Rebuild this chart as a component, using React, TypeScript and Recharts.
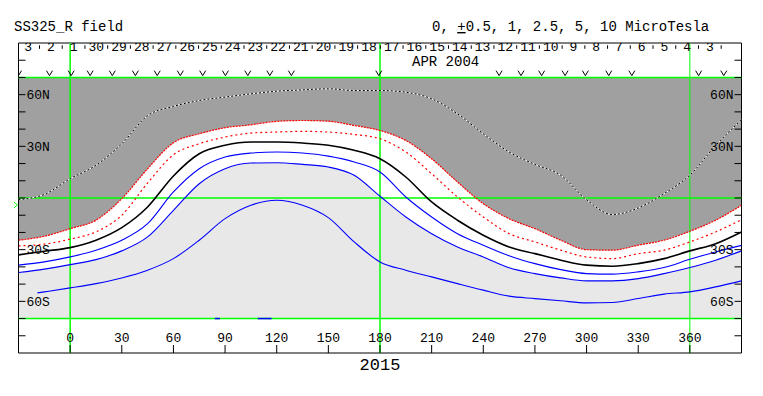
import React from "react";
import {
  ComposedChart,
  Area,
  Line,
  Scatter,
  XAxis,
  YAxis,
  ReferenceLine,
  ReferenceArea,
  ReferenceDot,
} from "recharts";

const MONO = "'Liberation Mono', 'DejaVu Sans Mono', monospace";

// longitude grid (Carrington deg) the contours were read at
const lons = [-30, -15, 0, 15, 30, 45, 60, 75, 90, 105, 120, 135, 150, 165, 180, 195, 210, 225, 240, 255, 270, 285, 300, 315, 330, 345, 360, 375, 390];

// latitude of each contour at those longitudes
const neutralLine = [-1.0, 2.1, 11.2, 19.0, 31.5, 47.8, 53.2, 56.6, 58.6, 60.5, 62.0, 62.8, 63.4, 62.4, 62.4, 61.4, 57.6, 48.9, 37.3, 26.7, 19.5, 13.2, -1.0, -9.6, -5.8, 2.5, 13.3, 30.5, 45.4];
const redOuter = [-24.5, -22.2, -17.8, -12.9, -0.4, 17.0, 32.1, 37.3, 40.8, 42.5, 44.5, 45.0, 44.6, 42.1, 39.2, 33.4, 22.8, 9.3, -3.3, -12.0, -17.8, -24.5, -30.0, -30.3, -27.4, -24.5, -19.3, -12.9, -4.2];
const redInner = [-27.8, -26.8, -23.9, -19.7, -10.0, 8.7, 25.1, 31.5, 35.4, 37.7, 38.3, 38.7, 38.3, 36.9, 34.4, 26.7, 14.1, 0.6, -11.0, -20.7, -25.5, -30.3, -34.2, -35.2, -32.3, -30.3, -25.5, -19.7, -12.6];
const blackLine = [-33.0, -30.9, -28.8, -24.5, -17.2, -5.2, 12.8, 25.7, 30.6, 32.5, 32.5, 31.9, 30.6, 27.7, 22.8, 12.2, -2.3, -12.9, -21.6, -28.4, -32.3, -36.1, -39.0, -39.6, -38.1, -35.2, -30.7, -26.5, -19.7];
const blue1 = [-39.0, -37.1, -34.2, -30.3, -24.5, -14.9, 3.5, 17.0, 23.8, 26.1, 26.7, 26.1, 24.3, 20.9, 15.1, 0.6, -11.0, -20.7, -27.4, -33.5, -38.1, -41.6, -43.9, -44.2, -42.9, -40.4, -35.6, -31.3, -27.5];
const blue2 = [-43.3, -41.3, -38.7, -35.8, -30.7, -22.6, -7.2, 8.3, 17.0, 20.3, 20.5, 19.5, 18.0, 13.2, 1.0, -11.0, -20.7, -28.4, -34.2, -40.5, -43.9, -46.4, -48.1, -48.1, -46.8, -43.9, -40.4, -36.1, -30.7];

// lowest contour starts a little inside the left edge
const blue3Lons = [-19, -15, 0, 15, 30, 45, 60, 75, 90, 105, 120, 135, 150, 165, 180, 195, 210, 225, 240, 255, 270, 285, 300, 315, 330, 345, 360, 375, 390];
const blue3 = [-55.1, -54.5, -52.2, -49.7, -46.4, -41.9, -35.2, -24.5, -12.0, -4.2, -1.3, -4.2, -11.4, -25.5, -37.1, -41.9, -45.8, -49.7, -53.5, -57.0, -58.4, -59.7, -60.9, -60.7, -58.4, -55.8, -54.5, -51.6, -48.1];

// bits of contour lying on the bottom edge
const edgeSegments = [[84, 87], [109, 117]];

// observation marks along the top
const obsLons = [-30, -12, 0.6, 11.6, 24.5, 37.9, 50.6, 64, 77, 90.2, 103.2, 116, 128.5, 179.3, 249.2, 261.9, 273.9, 287.5, 299.3, 312.9, 326.3, 365.1, 379.7];
const OBS_LAT = 72.5;
const B0_LAT = -4;

// day strip (May 3 back to Apr 3)
const dayLabels = ["3", "2", "1", "30", "29", "28", "27", "26", "25", "24", "23", "22", "21", "20", "19", "18", "17", "16", "15", "14", "13", "12", "11", "10", "9", "8", "7", "6", "5", "4", "3"];
const FIRST_DAY_LON = -24.4;
const DEG_PER_DAY = 13.2;
const DAY_LAT = 87.5;

const lonTicks = [0, 30, 60, 90, 120, 150, 180, 210, 240, 270, 300, 330, 360];
const latTicks = [-80, -70, -60, -50, -40, -30, -20, -10, 0, 10, 20, 30, 40, 50, 60, 70, 80];
const latLabels: Record<number, string> = { 60: "60N", 30: "30N", [-30]: "30S", [-60]: "60S" };

const rows = lons.map((lon, i) => ({
  lon,
  neutral: neutralLine[i],
  redOuter: redOuter[i],
  redInner: redInner[i],
  black: blackLine[i],
  blue1: blue1[i],
  blue2: blue2[i],
  dark: [redOuter[i], 70],
  white: [blue2[i], redOuter[i]],
  light: [-70, blue2[i]],
}));
const blue3Rows = blue3Lons.map((lon, i) => ({ lon, blue3: blue3[i] }));
const obsRows = obsLons.map((lon) => ({ lon, lat: OBS_LAT }));
const dayRows = dayLabels.map((label, i) => ({ lon: FIRST_DAY_LON + i * DEG_PER_DAY, lat: DAY_LAT, label }));
const sepRows = dayLabels.map((_, i) => ({ lon: FIRST_DAY_LON + DEG_PER_DAY / 2 + i * DEG_PER_DAY, lat: DAY_LAT }));

const GREEN = "#00ff00";

const LeftTick = (p: any) => {
  const t = latLabels[p.payload.value];
  if (!t) return <g />;
  return (
    <text x={p.x} y={p.y} dy="0.33em" textAnchor="start" fontFamily={MONO} fontSize={13} fill="#000">
      {t}
    </text>
  );
};

const RightTick = (p: any) => {
  const t = latLabels[p.payload.value];
  if (!t) return <g />;
  return (
    <text x={p.x} y={p.y} dy="0.33em" textAnchor="end" fontFamily={MONO} fontSize={13} fill="#000">
      {t}
    </text>
  );
};

const LonTick = (p: any) => (
  <text x={p.x} y={p.y - 1} textAnchor="middle" fontFamily={MONO} fontSize={13} fill="#000">
    {p.payload.value}
  </text>
);

const DayLabel = (p: any) => (
  <text x={p.cx} y={p.cy + 4} textAnchor="middle" fontFamily={MONO} fontSize={13} fill="#000">
    {p.payload.label}
  </text>
);

const DaySep = (p: any) => (
  <line x1={p.cx} x2={p.cx} y1={p.cy - 2} y2={p.cy + 1.5} stroke="#000" strokeWidth={1} />
);

const VMark = (p: any) => (
  <path
    d={`M${p.cx - 3},${p.cy - 2.5} L${p.cx},${p.cy + 2.5} L${p.cx + 3},${p.cy - 2.5}`}
    stroke="#000"
    strokeWidth={1}
    fill="none"
  />
);

const B0Mark = (p: any) => (
  <path
    d={`M${p.cx - 1.5},${p.cy - 3} L${p.cx + 2},${p.cy} L${p.cx - 1.5},${p.cy + 3}`}
    stroke={GREEN}
    strokeWidth={1}
    fill="none"
  />
);

export default function App() {
  return (
    <div style={{ position: "absolute", left: 0, top: 0, width: 763, height: 396, background: "#fff" }}>
      <ComposedChart
        width={763}
        height={396}
        data={rows}
        margin={{ top: 43, right: 21.5, bottom: 43, left: 18.5 }}
      >
        <XAxis
          dataKey="lon"
          type="number"
          domain={[-30, 390]}
          allowDataOverflow
          ticks={lonTicks}
          interval={0}
          orientation="bottom"
          mirror
          axisLine={false}
          tickSize={8}
          tickMargin={2}
          tickLine={{ stroke: "#000" }}
          tick={LonTick}
        />
        <YAxis
          type="number"
          domain={[-90, 90]}
          allowDataOverflow
          ticks={latTicks}
          interval={0}
          orientation="left"
          mirror
          axisLine={false}
          tickSize={7}
          tickMargin={1}
          tickLine={{ stroke: "#000" }}
          tick={LeftTick}
        />
        <YAxis
          yAxisId="r"
          type="number"
          domain={[-90, 90]}
          allowDataOverflow
          ticks={latTicks}
          interval={0}
          orientation="right"
          mirror
          axisLine={false}
          tickSize={7}
          tickMargin={1}
          tickLine={{ stroke: "#000" }}
          tick={RightTick}
        />

        <Area dataKey="light" type="monotone" stroke="none" fill="#e8e8e8" fillOpacity={1} isAnimationActive={false} activeDot={false} />
        <Area dataKey="white" type="monotone" stroke="none" fill="#ffffff" fillOpacity={1} isAnimationActive={false} activeDot={false} />
        <Area dataKey="dark" type="monotone" stroke="none" fill="#a0a0a0" fillOpacity={1} isAnimationActive={false} activeDot={false} />

        <ReferenceLine y={70} stroke={GREEN} strokeWidth={1.5} />
        <ReferenceLine y={-70} stroke={GREEN} strokeWidth={1.5} />
        <ReferenceLine y={0} stroke={GREEN} strokeWidth={1.5} />
        <ReferenceLine x={0} stroke={GREEN} strokeWidth={1.5} />
        <ReferenceLine x={180} stroke={GREEN} strokeWidth={1.5} />
        <ReferenceLine x={360} stroke={GREEN} strokeWidth={1} />

        <Line dataKey="neutral" type="monotone" stroke="#ffffff" strokeWidth={1} dot={false} activeDot={false} isAnimationActive={false} />
        <Line dataKey="neutral" type="monotone" stroke="#000000" strokeWidth={1} strokeDasharray="2 2" dot={false} activeDot={false} isAnimationActive={false} />
        <Line dataKey="redOuter" type="monotone" stroke="#ff0000" strokeWidth={1.2} strokeDasharray="2 1" dot={false} activeDot={false} isAnimationActive={false} />
        <Line dataKey="redInner" type="monotone" stroke="#ff0000" strokeWidth={1.2} strokeDasharray="2 3" dot={false} activeDot={false} isAnimationActive={false} />
        <Line dataKey="black" type="monotone" stroke="#000000" strokeWidth={1.6} dot={false} activeDot={false} isAnimationActive={false} />
        <Line dataKey="blue1" type="monotone" stroke="#0000ff" strokeWidth={1.1} dot={false} activeDot={false} isAnimationActive={false} />
        <Line dataKey="blue2" type="monotone" stroke="#0000ff" strokeWidth={1.1} dot={false} activeDot={false} isAnimationActive={false} />
        <Line data={blue3Rows} dataKey="blue3" type="monotone" stroke="#0000ff" strokeWidth={1.1} dot={false} activeDot={false} isAnimationActive={false} />
        {edgeSegments.map(([a, b]) => (
          <ReferenceLine
            key={a}
            segment={[{ x: a, y: -70 }, { x: b, y: -70 }]}
            stroke="#0000ff"
            strokeWidth={1.5}
          />
        ))}

        <Scatter data={obsRows} dataKey="lat" shape={VMark} isAnimationActive={false} />
        <Scatter data={dayRows} dataKey="lat" shape={DayLabel} isAnimationActive={false} />
        <Scatter data={sepRows} dataKey="lat" shape={DaySep} isAnimationActive={false} />
        <ReferenceDot x={-31.8} y={B0_LAT} ifOverflow="visible" shape={B0Mark} />

        <ReferenceArea x1={-30} x2={390} y1={-90} y2={90} fill="none" stroke="#000" strokeWidth={1} ifOverflow="visible" />
      </ComposedChart>

      <svg width={763} height={396} style={{ position: "absolute", left: 0, top: 0, pointerEvents: "none" }}>
        <text x={14} y={31} fontFamily={MONO} fontSize={14} fill="#000">
          SS325_R field
        </text>
        <text x={432} y={31} fontFamily={MONO} fontSize={14} fill="#000">
          0, <tspan style={{ textDecoration: "underline" }}>+</tspan>0.5, 1, 2.5, 5, 10 MicroTesla
        </text>
        <text x={412} y={66} fontFamily={MONO} fontSize={14} fill="#000">
          APR 2004
        </text>
        <text x={380} y={370} textAnchor="middle" fontFamily={MONO} fontSize={17} fill="#000">
          2015
        </text>
      </svg>
    </div>
  );
}
